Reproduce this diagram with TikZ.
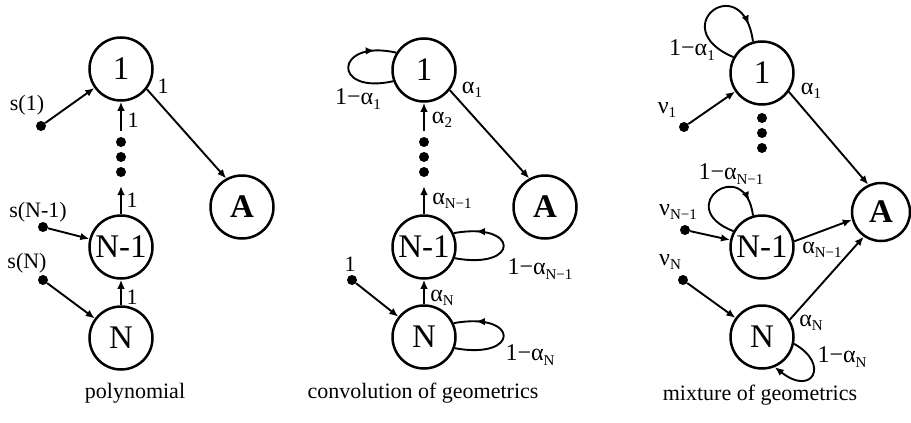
\documentclass[tikz,border=0pt]{standalone}
\usepackage{fontspec}
\setmainfont{Liberation Serif}
\usetikzlibrary{arrows.meta,decorations.markings}
\newcommand{\sbs}[1]{\raisebox{-0.4ex}{\fontsize{15}{15}\selectfont #1}}
\begin{document}
\begin{tikzpicture}[x=1pt,y=-1pt,
  state/.style={circle,draw,line width=2.5pt,minimum size=63pt,inner sep=0pt,font=\fontsize{33}{33}\selectfont},
  src/.style={circle,fill,inner sep=0pt,minimum size=10pt},
  dotv/.style={circle,fill,inner sep=0pt,minimum size=10pt},
  arr/.style={line width=1.9pt,-{Latex[length=9pt,width=7.5pt]}},
  loopline/.style={line width=1.9pt},
  midarr/.style={postaction={decorate},decoration={markings,mark=at position #1 with {\arrow{Latex[length=9pt,width=7.5pt]}}}},
  lbl/.style={font=\fontsize{22}{22}\selectfont,inner sep=0pt},
  albl/.style={font=\fontsize{24}{24}\selectfont,inner sep=0pt},
  captext/.style={font=\fontsize{22}{22}\selectfont,inner sep=0pt},
]
\useasboundingbox (0,0) rectangle (911,423);

% ---------- polynomial ----------
\node[state] (a1) at (121,69) {1};
\node[state] (aA) at (242,207) {\textbf{A}};
\node[state] (am) at (121,247) {N-1};
\node[state] (an) at (121,338) {N};
\node[dotv] (av1) at (121,142) {};
\node[dotv] (av2) at (121,157) {};
\node[dotv] (av3) at (121,172) {};
\coordinate (au) at (121,131);
\coordinate (al) at (121,186);
\node[src] (as1) at (41,126) {};
\node[src] (asm) at (43,227) {};
\node[src] (asn) at (43,280) {};
\draw[arr] (as1) -- (a1);
\draw[arr] (asm) -- (am);
\draw[arr] (asn) -- (an);
\draw[arr] (a1.-38) -- (aA.119);
\draw[arr] (au) -- (a1);
\draw[arr] (am) -- (al);
\draw[arr] (an) -- (am);
\node[lbl] at (27,105) {s(1)};
\node[lbl] at (38,212) {s(N-1)};
\node[lbl] at (27,263) {s(N)};
\node[lbl] at (163,86) {1};
\node[lbl] at (133,120) {1};
\node[lbl] at (132,200) {1};
\node[lbl] at (132,297) {1};
\node[captext] at (135,393) {polynomial};

% ---------- convolution of geometrics ----------
\node[state] (b1) at (424,70) {1};
\node[state] (bA) at (545,207) {\textbf{A}};
\node[state] (bm) at (424,247) {N-1};
\node[state] (bn) at (424,337) {N};
\node[dotv] (bv1) at (424,142) {};
\node[dotv] (bv2) at (424,157) {};
\node[dotv] (bv3) at (424,172) {};
\coordinate (bu) at (424,131);
\coordinate (bl) at (424,186);
\node[src] (bs) at (352,280) {};
\draw[arr] (bs) -- (bn);
\draw[arr] (b1.-38) -- (bA.119);
\draw[arr] (bu) -- (b1);
\draw[arr] (bm) -- (bl);
\draw[arr] (bn) -- (bm);
\draw[loopline,midarr=0.8] (b1.200) .. controls +(-62,14) and +(-62,-14) .. (b1.148);
\draw[loopline,midarr=0.8] (bm.-20) .. controls +(66,12) and +(66,-12) .. (bm.25);
\draw[loopline,midarr=0.8] (bn.-20) .. controls +(66,12) and +(66,-12) .. (bn.25);
\node[lbl] at (350,264) {1};
\node[albl] at (472,90) {α\sbs{1}};
\node[albl] at (442,120) {α\sbs{2}};
\node[albl] at (452,201) {α\sbs{N−1}};
\node[albl] at (442,298) {α\sbs{N}};
\node[albl] at (358,99) {1−α\sbs{1}};
\node[albl] at (540,269) {1−α\sbs{N−1}};
\node[albl] at (530,355) {1−α\sbs{N}};
\node[captext] at (423,393) {convolution of geometrics};

% ---------- mixture of geometrics ----------
\node[state] (c1) at (762,73) {1};
\node[state,minimum size=58pt] (cA) at (881,212) {\textbf{A}};
\node[state] (cm) at (762,247) {N-1};
\node[state] (cn) at (762,337) {N};
\node[dotv] (cv1) at (762,118) {};
\node[dotv] (cv2) at (762,133) {};
\node[dotv] (cv3) at (762,148) {};
\node[src] (cs1) at (684,127) {};
\node[src] (csm) at (685,230) {};
\node[src] (csn) at (683,280) {};
\draw[arr] (cs1) -- (c1);
\draw[arr] (csm) -- (cm);
\draw[arr] (csn) -- (cn);
\draw[arr] (c1.-35) -- (cA.115);
\draw[arr] (cm.10) -- (cA.195);
\draw[arr] (cn.32) -- (cA.235);
\draw[loopline,midarr=0.86] (c1.151) .. controls +(-70,-30) and +(-10,-74) .. (c1.106);
\draw[loopline,midarr=0.86] (cm.151) .. controls +(-62,-24) and +(-8,-62) .. (cm.106);
\draw[arr] (cn.-12) .. controls +(36,20) and +(38,30) .. (cn.-67);
\node[albl] at (692,50) {1−α\sbs{1}};
\node[albl] at (811,91) {α\sbs{1}};
\node[albl] at (667,110) {ν\sbs{1}};
\node[albl] at (731,174) {1−α\sbs{N−1}};
\node[albl] at (678,212) {ν\sbs{N−1}};
\node[albl] at (822,250) {α\sbs{N−1}};
\node[albl] at (670,262) {ν\sbs{N}};
\node[albl] at (811,323) {α\sbs{N}};
\node[albl] at (842,357) {1−α\sbs{N}};
\node[captext] at (760,395) {mixture of geometrics};
\end{tikzpicture}
\end{document}
